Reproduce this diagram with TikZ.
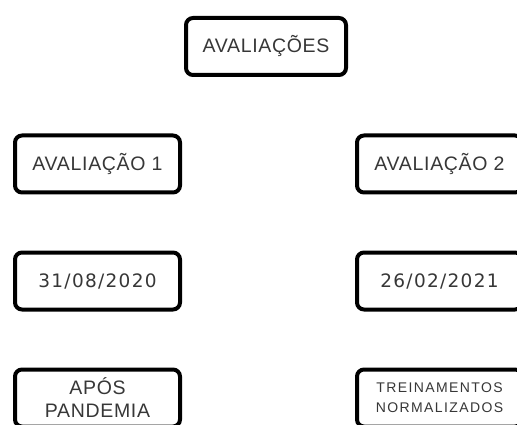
\documentclass[tikz,border=0pt]{standalone}
\usepackage{fontspec}
\setmainfont{Liberation Sans}
\newfontfamily\labelfont{Liberation Sans}[LetterSpace=3.5]
\newfontfamily\datefont{DejaVu Sans}[LetterSpace=7]
\newfontfamily\notefont{Liberation Sans}[LetterSpace=10]
\usepackage{xcolor}
\definecolor{ink}{RGB}{55,55,55}
\usepackage{tikz}
\usetikzlibrary{positioning}

\begin{document}
\begin{tikzpicture}[
  box/.style={rectangle,draw=black,fill=white,line width=4pt,
              rounded corners=7pt,minimum width=165pt,minimum height=57pt,
              font=\labelfont\fontsize{19.5}{23}\selectfont\color{ink},align=center},
  datebox/.style={box,font=\datefont\fontsize{18.5}{23}\selectfont\color{ink}},
  notebox/.style={box,font=\notefont\fontsize{14}{20}\selectfont\color{ink}},
  node distance=56pt and 173pt,
]
  \useasboundingbox (0,0) rectangle (517pt,-425pt);
  \clip (0,0) rectangle (517pt,-425pt);

  \node[box,minimum width=160pt] (aval) at (266pt,-46.5pt) {AVALIAÇÕES};

  \node[box] (av1) at (97.5pt,-164pt) {AVALIAÇÃO 1};
  \node[box,right=of av1] (av2) {AVALIAÇÃO 2};

  \node[datebox,below=of av1] (dt1) {31/08/2020};
  \node[datebox,below=of av2] (dt2) {26/02/2021};

  \node[box,below=of dt1] (obs1) {APÓS\\PANDEMIA};
  \node[notebox,below=of dt2] (obs2) {TREINAMENTOS\\NORMALIZADOS};
\end{tikzpicture}
\end{document}
